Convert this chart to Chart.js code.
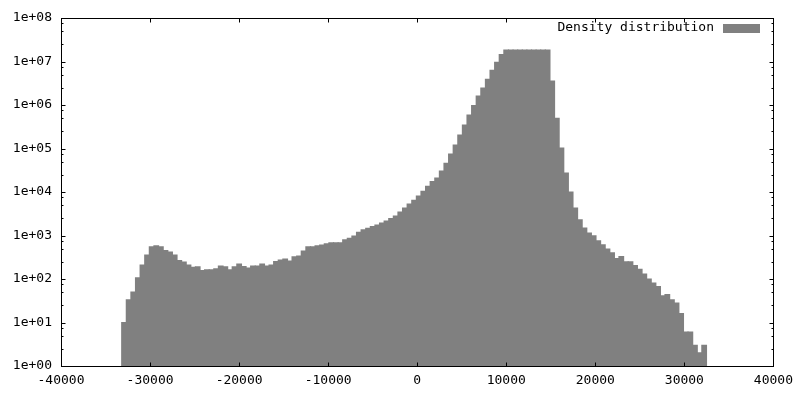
<!DOCTYPE html>
<html>
<head>
<meta charset="utf-8">
<script src="https://cdn.jsdelivr.net/npm/chart.js@4"></script>
<style>
  html, body { margin: 0; padding: 0; background: #fff; }
</style>
</head>
<body>
<canvas id="myChart" width="800" height="400"></canvas>
<script>
// histogram bins: left edge of the first bin and bin width
const binStart = -33180;
const binWidth = 517;

// counts per bin (log scale)
const counts = [
  10, 33, 50, 106, 210, 355, 545, 575, 545, 447,
  417, 355, 264, 245, 210, 185, 189, 155, 163, 163,
  172, 199, 189, 163, 189, 220, 192, 179, 199, 199,
  220, 199, 210, 250, 273, 288, 258, 325, 337, 438,
  545, 545, 575, 605, 646, 681, 681, 681, 790, 860,
  970, 1185, 1340, 1465, 1610, 1740, 1940, 2150, 2460, 2810,
  3470, 4290, 5240, 6440, 8090, 10300, 13400, 17400, 21000, 30400,
  45700, 74800, 120000, 204000, 347000, 589000, 964000, 1610000, 2460000, 3900000,
  6300000, 9600000, 14400000, 18400000, 18400000, 18400000, 18400000, 18400000, 18400000, 18400000,
  18400000, 18400000, 18400000, 3560000, 494000, 102000, 27300, 10000, 4250, 2290,
  1480, 1140, 980, 755, 608, 490, 398, 293, 326, 248,
  248, 202, 167, 130, 100, 81, 67, 41, 44, 33,
  28, 16, 6, 6, 3, 2, 3
];

const xTicks = [-40000, -30000, -20000, -10000, 0, 10000, 20000, 30000, 40000];
const yTicks = [1, 10, 100, 1000, 10000, 100000, 1000000, 10000000, 100000000];
const yMinor = [2.5, 5, 7.5];
const seriesLabel = 'Density distribution';

const barColor = 'rgb(128,128,128)';
const fontFamily = "'DejaVu Sans Mono', 'Liberation Mono', monospace";

const points = counts.map((c, i) => ({ x: binStart + binWidth * (i + 0.5), y: c }));

// gnuplot-like frame: border, inward ticks on all four sides, legend inside
const framePlugin = {
  id: 'frame',
  afterDraw(chart) {
    const { ctx, chartArea: a, scales: { x, y } } = chart;
    ctx.save();
    ctx.strokeStyle = '#000';
    ctx.lineWidth = 1;
    const L = Math.round(a.left) + 0.5, R = Math.round(a.right) + 0.5;
    const T = Math.round(a.top) + 0.5, B = Math.round(a.bottom) + 0.5;
    ctx.strokeRect(L, T, R - L, B - T);
    ctx.beginPath();
    const major = 4, minor = 2;
    xTicks.forEach(v => {
      const px = Math.round(x.getPixelForValue(v)) + 0.5;
      ctx.moveTo(px, B); ctx.lineTo(px, B - major);
      ctx.moveTo(px, T); ctx.lineTo(px, T + major);
    });
    yTicks.forEach((v, i) => {
      const py = Math.round(y.getPixelForValue(v)) + 0.5;
      ctx.moveTo(L, py); ctx.lineTo(L + major, py);
      ctx.moveTo(R, py); ctx.lineTo(R - major, py);
      if (i < yTicks.length - 1) {
        yMinor.forEach(m => {
          const pm = Math.round(y.getPixelForValue(v * m)) + 0.5;
          ctx.moveTo(L, pm); ctx.lineTo(L + minor, pm);
          ctx.moveTo(R, pm); ctx.lineTo(R - minor, pm);
        });
      }
    });
    ctx.stroke();

    // legend
    ctx.font = '13px ' + fontFamily;
    ctx.fillStyle = '#000';
    ctx.textAlign = 'right';
    ctx.textBaseline = 'middle';
    ctx.fillText(seriesLabel, 714, 28);
    ctx.fillStyle = barColor;
    ctx.fillRect(723, 24, 37, 9);
    ctx.restore();
  }
};

new Chart(document.getElementById('myChart'), {
  type: 'bar',
  data: {
    datasets: [{
      label: seriesLabel,
      data: points,
      backgroundColor: barColor,
      borderWidth: 0,
      inflateAmount: 0.6,
      barPercentage: 1,
      categoryPercentage: 1
    }]
  },
  options: {
    responsive: false,
    animation: false,
    layout: { padding: { top: 18, right: 24, left: 0, bottom: 0 } },
    plugins: {
      legend: { display: false },
      tooltip: { enabled: false }
    },
    scales: {
      x: {
        type: 'linear',
        min: -40000,
        max: 40000,
        offset: false,
        grid: { display: false, drawTicks: false, offset: false },
        border: { display: false },
        afterBuildTicks: s => { s.ticks = xTicks.map(v => ({ value: v })); },
        afterFit: s => { s.height = 34; },
        ticks: {
          autoSkip: false,
          maxRotation: 0,
          padding: 7,
          color: '#000',
          font: { family: fontFamily, size: 13 },
          callback: v => String(v)
        }
      },
      y: {
        type: 'logarithmic',
        min: 1,
        max: 100000000,
        grid: { display: false, drawTicks: false },
        border: { display: false },
        afterBuildTicks: s => { s.ticks = yTicks.map(v => ({ value: v })); },
        afterFit: s => { s.width = 61; },
        ticks: {
          padding: 9,
          color: '#000',
          font: { family: fontFamily, size: 13 },
          callback: v => '1e+' + String(Math.round(Math.log10(v))).padStart(2, '0')
        }
      }
    }
  },
  plugins: [framePlugin]
});
</script>
</body>
</html>
